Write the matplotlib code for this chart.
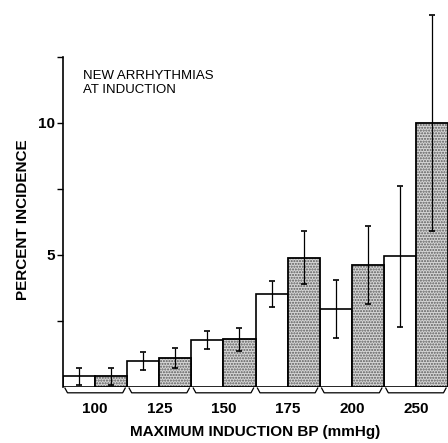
import matplotlib
matplotlib.use("Agg")
import matplotlib.pyplot as plt
import numpy as np

plt.rcParams["font.family"] = ["Liberation Sans", "DejaVu Sans"]

# induction BP groups (mmHg)
groups = ["100", "125", "150", "175", "200", "250"]
# percent incidence, open bars and stippled bars
open_vals = [0.4, 1.0, 1.78, 3.52, 2.95, 4.95]
open_err = [0.32, 0.34, 0.35, 0.48, 1.09, 2.67]
stip_vals = [0.4, 1.1, 1.8, 4.9, 4.63, 10.0]
stip_err = [0.32, 0.37, 0.44, 1.0, 1.48, 4.1]

fig = plt.figure(figsize=(4.48, 4.43), dpi=100)
ax = fig.add_axes([63 / 448, 56 / 443, 385 / 448, 330 / 443])

x = np.arange(len(groups))
w = 0.5

ax.bar(x - w / 2, open_vals, width=w, facecolor="white", edgecolor="black", linewidth=1.2, zorder=2)
ax.bar(x + w / 2, stip_vals, width=w, facecolor="#d6d6d6", edgecolor="#5a5a5a", linewidth=0,
       hatch="......", zorder=2)
ax.bar(x + w / 2, stip_vals, width=w, fill=False, edgecolor="black", linewidth=1.3, zorder=3)

ax.errorbar(x - w / 2, open_vals, yerr=open_err, fmt="none", ecolor="black", elinewidth=0.9,
            capsize=2.5, capthick=1.2, zorder=4, clip_on=False)
ax.errorbar(x + w / 2, stip_vals, yerr=stip_err, fmt="none", ecolor="black", elinewidth=0.9,
            capsize=2.5, capthick=1.2, zorder=4, clip_on=False)

# brackets under each group
for xi in x:
    xs = [xi - 0.47, xi - 0.43, xi + 0.43, xi + 0.47]
    ys = [-0.04, -0.22, -0.22, -0.04]
    ax.plot(xs, ys, color="black", linewidth=0.9, clip_on=False)

ax.set_xlim(-0.5, len(groups) - 0.5)
ax.set_ylim(0, 12.5)
ax.set_yticks([2.5, 5, 7.5, 10, 12.5])
ax.set_yticklabels(["", "5", "", "10", ""], fontsize=11, fontweight="bold")
ax.tick_params(axis="y", length=4, width=1, pad=2)
ax.set_xticks(x)
ax.set_xticklabels(groups, fontsize=11, fontweight="bold")
ax.tick_params(axis="x", length=0, pad=11)

for side in ["top", "right", "bottom"]:
    ax.spines[side].set_visible(False)
ax.spines["left"].set_linewidth(1.2)

ax.set_xlabel("MAXIMUM INDUCTION BP (mmHg)", fontsize=11, fontweight="bold", labelpad=6)
fig.text(23 / 448, 1 - 220 / 443, "PERCENT INCIDENCE", rotation=90, fontsize=11,
         fontweight="bold", ha="center", va="center")

ax.text(0.052, 0.96, "NEW ARRHYTHMIAS\nAT INDUCTION", transform=ax.transAxes, fontsize=9.5,
        ha="left", va="top", linespacing=1.15)

fig.savefig("out.png", dpi=100)
